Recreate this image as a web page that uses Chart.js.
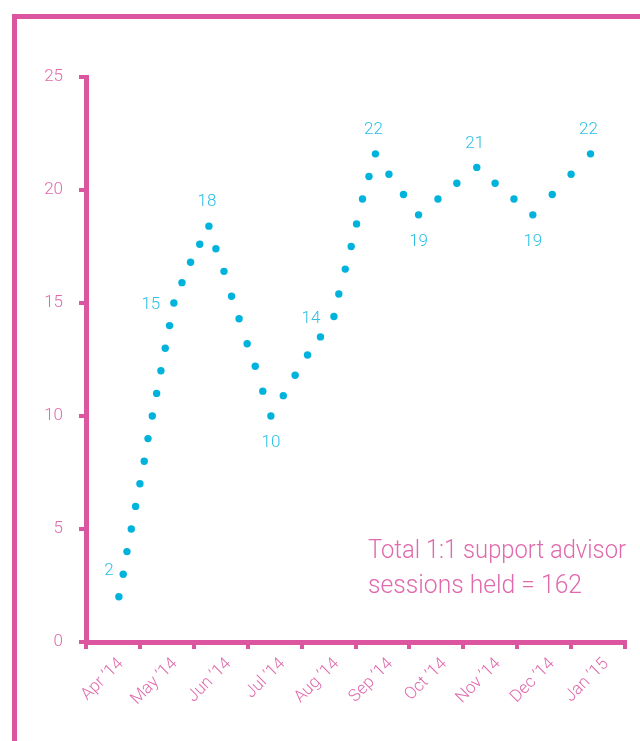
<!DOCTYPE html>
<html>
<head>
<meta charset="utf-8">
<script src="https://cdn.jsdelivr.net/npm/chart.js@4.4.1/dist/chart.umd.min.js"></script>
<style>
  html, body { margin: 0; padding: 0; background: #fff; }
  body { width: 640px; height: 741px; position: relative; overflow: hidden; }
  .frame {
    position: absolute; left: 12px; top: 14px; width: 700px; height: 800px;
    border-top: 5px solid #db569e; border-left: 5px solid #db569e; box-sizing: border-box;
  }
  canvas { position: absolute; left: 0; top: 0; }
</style>
</head>
<body>
<div class="frame"></div>
<canvas id="sessionsChart" width="640" height="741"></canvas>
<script>
// Month labels along the bottom axis
const monthLabels = ['Apr \u201914', 'May \u201914', 'Jun \u201914', 'Jul \u201914', 'Aug \u201914',
                     'Sep \u201914', 'Oct \u201914', 'Nov \u201914', 'Dec \u201914', 'Jan \u201915'];

// Position of each reading, in months counted from 1 Apr 2014
const sessionMonths = [
    0.61, 0.69, 0.76, 0.84, 0.92, 1.00, 1.08, 1.15, 1.23, 1.31,
    1.39, 1.47, 1.55, 1.63, 1.78, 1.94, 2.11, 2.28, 2.41, 2.56,
    2.70, 2.84, 2.99, 3.14, 3.28, 3.43, 3.66, 3.88, 4.11, 4.35,
    4.60, 4.69, 4.81, 4.92, 5.02, 5.13, 5.25, 5.37, 5.62, 5.89,
    6.17, 6.53, 6.88, 7.25, 7.59, 7.94, 8.29, 8.65, 9.00, 9.36
];

// 1:1 support advisor sessions
const sessionCounts = [
    2.0, 3.0, 4.0, 5.0, 6.0, 7.0, 8.0, 9.0, 10.0, 11.0,
    12.0, 13.0, 14.0, 15.0, 15.9, 16.8, 17.6, 18.4, 17.4, 16.4,
    15.3, 14.3, 13.2, 12.2, 11.1, 10.0, 10.9, 11.8, 12.7, 13.5,
    14.4, 15.4, 16.5, 17.5, 18.5, 19.6, 20.6, 21.6, 20.7, 19.8,
    18.9, 19.6, 20.3, 21.0, 20.3, 19.6, 18.9, 19.8, 20.7, 21.6
];

const yTicks = [0, 5, 10, 15, 20, 25];

const totalText = ['Total 1:1 support advisor', 'sessions held = 162'];

const PINK = '#db569e';
const PINK_TEXT = '#e06aad';
const CYAN = '#00b3dd';
const CYAN_TEXT = '#2cc0e4';
const FONT = 'Roboto';

// which points carry a value label, and on which side
const labelPlacement = [
    [0, 'upleft'], [13, 'left'], [17, 'above'], [25, 'below'], [30, 'left'],
    [37, 'above'], [40, 'below'], [43, 'above'], [46, 'below'], [49, 'above']
];
const labelOffsets = {
    above: [-2, -24], below: [0, 27], left: [-23, 2], upleft: [-10, -26]
};

const pointLabels = {
    id: 'pointLabels',
    afterDatasetsDraw(chart) {
        const { ctx } = chart;
        const meta = chart.getDatasetMeta(0);
        ctx.save();
        ctx.font = `300 17px ${FONT}`;
        ctx.fillStyle = CYAN_TEXT;
        ctx.textAlign = 'center';
        ctx.textBaseline = 'middle';
        labelPlacement.forEach(([i, side]) => {
            const pt = meta.data[i];
            const [dx, dy] = labelOffsets[side];
            ctx.fillText(String(Math.round(sessionCounts[i])), pt.x + dx, pt.y + dy);
        });
        ctx.restore();
    }
};

// the total note in the lower right corner, each line squeezed to its width
const totalNote = {
    id: 'totalNote',
    afterDraw(chart) {
        const { ctx, chartArea } = chart;
        const left = chartArea.right - 257;
        const lines = [[totalText[0], 258, 84], [totalText[1], 214, 49]];
        ctx.save();
        ctx.font = `300 26px ${FONT}`;
        ctx.fillStyle = PINK_TEXT;
        ctx.textBaseline = 'alphabetic';
        lines.forEach(([text, w, up]) => {
            const sx = w / ctx.measureText(text).width;
            ctx.save();
            ctx.translate(left, chartArea.bottom - up);
            ctx.scale(sx, 1);
            ctx.fillText(text, 0, 0);
            ctx.restore();
        });
        ctx.restore();
    }
};

const axisGrid = {
    drawOnChartArea: false,
    drawTicks: true,
    tickLength: 7,
    tickWidth: 4,
    tickColor: PINK,
    lineWidth: 4,
    color: PINK
};

new Chart(document.getElementById('sessionsChart'), {
    type: 'line',
    data: {
        datasets: [{
            data: sessionMonths.map((m, i) => ({ x: m, y: sessionCounts[i] })),
            xAxisID: 'xd',
            yAxisID: 'y',
            showLine: false,
            pointRadius: 3.7,
            pointBorderWidth: 0,
            pointBackgroundColor: CYAN,
            pointHoverRadius: 3.7
        }]
    },
    options: {
        responsive: false,
        animation: false,
        layout: { padding: { top: 77, right: 15, left: 0, bottom: 0 } },
        plugins: {
            legend: { display: false },
            tooltip: { enabled: false }
        },
        scales: {
            x: {
                type: 'category',
                labels: monthLabels,
                offset: true,
                grid: { ...axisGrid, offset: true },
                border: { color: PINK, width: 5 },
                ticks: {
                    color: PINK_TEXT,
                    font: { family: FONT, size: 17, weight: 300 },
                    minRotation: 45,
                    maxRotation: 45,
                    autoSkip: false,
                    labelOffset: 8,
                    padding: 5
                },
                afterFit: (s) => { s.height = 99; }
            },
            xd: {
                type: 'linear',
                display: false,
                min: 0,
                max: 10
            },
            y: {
                min: 0,
                max: 25,
                afterBuildTicks: (s) => { s.ticks = yTicks.map(v => ({ value: v })); },
                grid: axisGrid,
                border: { color: PINK, width: 5 },
                ticks: {
                    color: PINK_TEXT,
                    font: { family: FONT, size: 17, weight: 300 },
                    padding: 16
                },
                afterFit: (s) => { s.width = 86; }
            }
        }
    },
    plugins: [pointLabels, totalNote]
});
</script>
</body>
</html>
